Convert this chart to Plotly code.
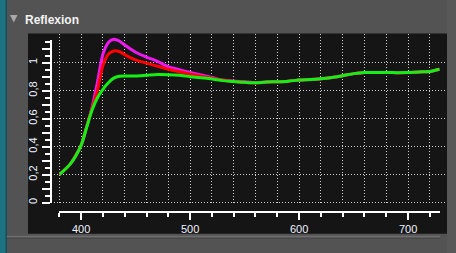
import plotly.graph_objects as go

# ---- data ----
wavelength = [380, 390, 400, 405, 410, 415, 420, 425, 430, 435, 440, 450, 460, 470,
              480, 490, 500, 510, 520, 530, 540, 550, 560, 570, 580, 590, 600, 610,
              620, 630, 640, 650, 660, 670, 680, 690, 700, 710, 720, 729]

green = [0.20, 0.275, 0.41, 0.535, 0.66, 0.75, 0.81, 0.857, 0.89, 0.903, 0.905, 0.905,
         0.91, 0.915, 0.914, 0.91, 0.90, 0.892, 0.884, 0.872, 0.866, 0.86, 0.856, 0.862,
         0.864, 0.868, 0.876, 0.88, 0.886, 0.895, 0.907, 0.922, 0.93, 0.93, 0.93, 0.929,
         0.93, 0.934, 0.937, 0.953]

magenta = [0.20, 0.275, 0.41, 0.54, 0.68, 0.86, 1.06, 1.145, 1.167, 1.155, 1.126, 1.075,
           1.04, 1.01, 0.971, 0.95, 0.93, 0.912, 0.895, 0.876, 0.869, 0.864, 0.857, 0.862,
           0.864, 0.868, 0.876, 0.88, 0.886, 0.895, 0.907, 0.922, 0.93, 0.93, 0.93, 0.929,
           0.93, 0.934, 0.937, 0.953]

red = [0.20, 0.275, 0.41, 0.54, 0.67, 0.80, 0.98, 1.06, 1.084, 1.08, 1.058, 1.02,
       0.997, 0.975, 0.953, 0.935, 0.918, 0.904, 0.889, 0.874, 0.866, 0.86, 0.856, 0.862,
       0.864, 0.868, 0.876, 0.88, 0.886, 0.895, 0.907, 0.922, 0.93, 0.93, 0.93, 0.929,
       0.93, 0.934, 0.937, 0.953]

y_tickvals = [0, 0.1, 0.2, 0.3, 0.4, 0.5, 0.6, 0.7, 0.8, 0.9, 1.0, 1.1]
y_ticktext = ["0", "", "0,2", "", "0,4", "", "0,6", "", "0,8", "", "1", ""]
title_text = "Reflexion"

# ---- geometry helpers (pixels -> paper) ----
W, H = 456, 253
def fx(px):
    return px / W
def fy(py):
    return 1 - py / H

X0PX, X1PX = 59.3, 439.7       # 380 .. 729
XR = [380, 729]
XSCALE = (X1PX - X0PX) / (XR[1] - XR[0])
Y0PX = 202.7                   # value 0
YSCALE = 140.0                 # px per unit
YTOP = 1.162                   # top of the drawn y axis line
YDATA = [-0.1, 1.2]            # data axis range (no clipping of peaks)

fig = go.Figure()

# subplot xy: vertical dotted grid
fig.add_trace(go.Scatter(x=[], y=[], xaxis="x", yaxis="y", showlegend=False))
# subplot x2y2: horizontal dotted grid
fig.add_trace(go.Scatter(x=[], y=[], xaxis="x2", yaxis="y2", showlegend=False))
# subplot x3y3: visible axes
fig.add_trace(go.Scatter(x=[], y=[], xaxis="x3", yaxis="y3", showlegend=False))

# data on x3y4
for vals, col in [(magenta, "#f018f0"), (red, "#ff0000"), (green, "#14f014")]:
    fig.add_trace(go.Scatter(x=wavelength, y=vals, mode="lines", xaxis="x3", yaxis="y4",
                             line=dict(color=col, width=3, shape="spline", smoothing=0.7),
                             showlegend=False, hoverinfo="skip"))

grid_col = "#cfcfcf"
grid_dash = "1px,2px"

gx_lo, gx_hi = 370, 735
fig.update_layout(
    xaxis=dict(domain=[fx(X0PX + (gx_lo - XR[0]) * XSCALE), fx(X0PX + (gx_hi - XR[0]) * XSCALE)],
               range=[gx_lo, gx_hi], anchor="y", showgrid=True, gridcolor=grid_col,
               griddash=grid_dash, gridwidth=1, tick0=380, dtick=20, showticklabels=False,
               ticks="", zeroline=False, showline=False, fixedrange=True),
    yaxis=dict(domain=[fy(203.5), fy(33.5)], range=[0, 1], anchor="x", showgrid=False,
               showticklabels=False, ticks="", zeroline=False, showline=False, fixedrange=True),
    xaxis2=dict(domain=[fx(51), fx(446)], range=[0, 1], anchor="y2", showgrid=False,
                showticklabels=False, ticks="", zeroline=False, showline=False, fixedrange=True),
    yaxis2=dict(domain=[fy(Y0PX + 0.1 * YSCALE), fy(Y0PX - 1.2 * YSCALE)], range=[-0.1, 1.2],
                anchor="x2", showgrid=True, gridcolor=grid_col, griddash=grid_dash, gridwidth=1,
                tick0=0, dtick=0.2, showticklabels=False, ticks="", zeroline=False,
                showline=False, fixedrange=True),
    xaxis3=dict(domain=[fx(X0PX), fx(X1PX)], range=XR, anchor="free", position=fy(211.7),
                showgrid=False, zeroline=False, showline=True, linecolor="white", linewidth=2,
                ticks="outside", ticklen=7, tickwidth=2, tickcolor="white",
                tick0=0, dtick=100,
                minor=dict(ticks="outside", ticklen=4, tickwidth=2, tickcolor="white",
                           tick0=380, dtick=20, showgrid=False),
                tickfont=dict(family="Liberation Sans", size=11, color="#eef2ff"),
                fixedrange=True),
    yaxis3=dict(domain=[fy(Y0PX), fy(Y0PX - YTOP * YSCALE)], range=[0, YTOP], anchor="free",
                position=fx(50.5), side="left",
                showgrid=False, zeroline=False, showline=True, linecolor="white", linewidth=2,
                ticks="outside", ticklen=8, tickwidth=2, tickcolor="white",
                tickmode="array", tickvals=y_tickvals, ticktext=y_ticktext, tickangle=-90,
                minor=dict(ticks="outside", ticklen=5, tickwidth=2, tickcolor="white",
                           tick0=0, dtick=0.05, showgrid=False),
                tickfont=dict(family="Liberation Sans", size=11, color="#eef2ff"),
                fixedrange=True),
    yaxis4=dict(domain=[fy(Y0PX - YDATA[0] * YSCALE), fy(Y0PX - YDATA[1] * YSCALE)],
                range=YDATA, anchor="x3", showgrid=False, zeroline=False, showline=False,
                showticklabels=False, ticks="", fixedrange=True),
    width=W, height=H, margin=dict(l=0, r=0, t=0, b=0, pad=0),
    paper_bgcolor="#535353", plot_bgcolor="rgba(0,0,0,0)",
    separators=", ",
    showlegend=False,
)

shapes = [
    # right lighter strip
    dict(type="rect", xref="paper", yref="paper", x0=fx(447), x1=1, y0=fy(253), y1=fy(0),
         fillcolor="#585858", line_width=0, layer="below"),
    # dark panel
    dict(type="rect", xref="paper", yref="paper", x0=fx(28), x1=fx(447), y0=fy(233.7), y1=fy(33.5),
         fillcolor="#151515", line_width=0, layer="below"),
    # teal bar
    dict(type="rect", xref="paper", yref="paper", x0=0, x1=fx(5.5), y0=0, y1=1,
         fillcolor="#1a7282", line_width=0, layer="below"),
    dict(type="rect", xref="paper", yref="paper", x0=fx(5.5), x1=fx(7), y0=0, y1=1,
         fillcolor="#0f5260", line_width=0, layer="below"),
    # bottom separator
    dict(type="line", xref="paper", yref="paper", x0=fx(7), x1=fx(440), y0=fy(236.5), y1=fy(236.5),
         line=dict(color="#6e6e6e", width=1.5), layer="below"),
    dict(type="line", xref="paper", yref="paper", x0=fx(7), x1=fx(440), y0=fy(238.5), y1=fy(238.5),
         line=dict(color="#484848", width=1), layer="below"),
    # collapse triangle
    dict(type="path", xref="paper", yref="paper",
         path=f"M {fx(10)},{fy(15)} L {fx(17.5)},{fy(15)} L {fx(13.75)},{fy(22.5)} Z",
         fillcolor="#a8a8a8", line_width=0, layer="above"),
]
fig.update_layout(shapes=shapes)

fig.add_annotation(text=f"<b>{title_text}</b>", xref="paper", yref="paper",
                   x=fx(22.5), y=fy(20), xanchor="left", yanchor="middle", showarrow=False,
                   font=dict(family="Liberation Sans", size=12, color="#f2f2f2"))

fig.write_html("out.html", config={"displayModeBar": False})
